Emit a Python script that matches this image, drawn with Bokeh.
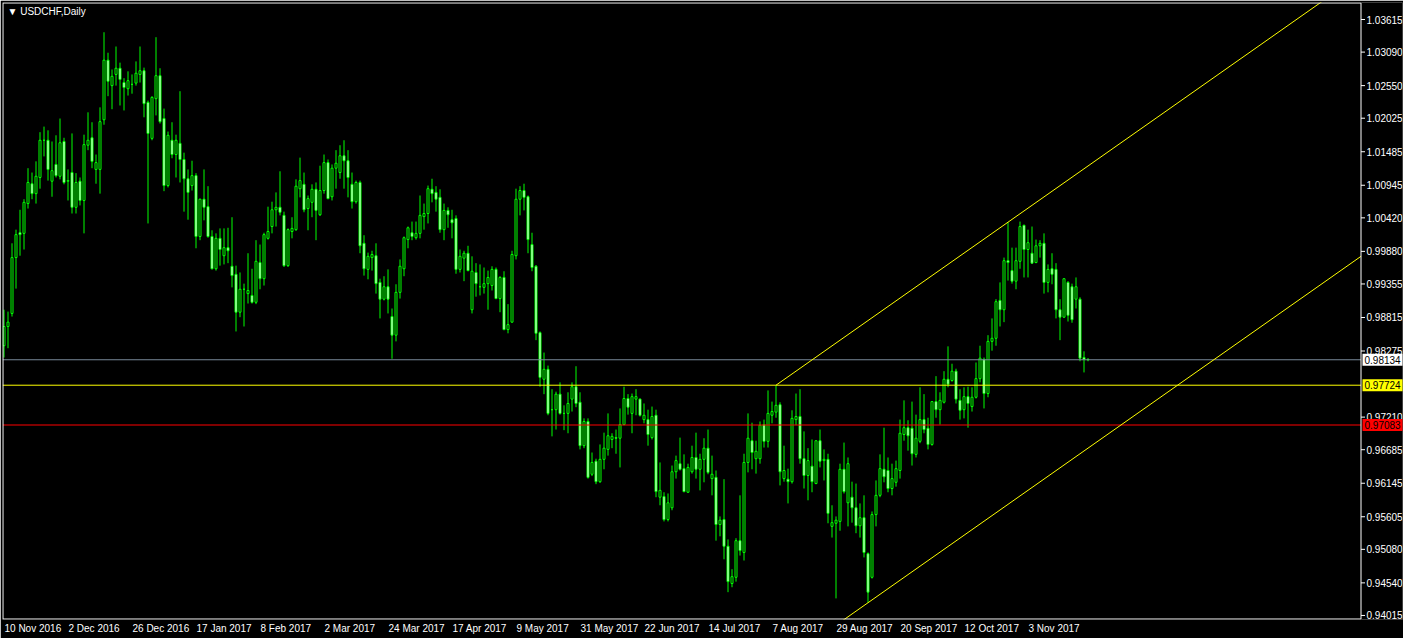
from bokeh.plotting import figure
from bokeh.models import Range1d, FixedTicker, Label, ColumnDataSource
from bokeh.core.properties import value
from bokeh.embed import file_html
from bokeh.resources import INLINE

# ---------------- data (USDCHF daily) ----------------
open_ = [
    0.9836, 0.9867, 0.9888, 0.9978, 1.0018, 1.0017, 1.0065, 1.0097, 1.0081, 1.0107,
    1.0167, 1.0167, 1.0101, 1.0128, 1.0109, 1.0165, 1.0101, 1.0115, 1.0059, 1.0101,
    1.0070, 1.0159, 1.0171, 1.0120, 1.0120, 1.0200, 1.0296, 1.0255, 1.0273, 1.0283,
    1.0260, 1.0250, 1.0257, 1.0259, 1.0273, 1.0279, 1.0228, 1.0170, 1.0234, 1.0271,
    1.0202, 1.0094, 1.0167, 1.0144, 1.0162, 1.0136, 1.0105, 1.0094, 1.0110, 1.0012,
    1.0072, 1.0060, 1.0012, 0.9960, 1.0009, 0.9981, 0.9994, 0.9964, 0.9951, 0.9890,
    0.9927, 0.9920, 0.9917, 0.9906, 0.9970, 0.9944, 1.0009, 1.0028, 1.0055, 1.0059,
    1.0046, 0.9965, 1.0020, 1.0023, 1.0089, 1.0096, 1.0057, 1.0067, 1.0088, 1.0047,
    1.0086, 1.0131, 1.0076, 1.0122, 1.0115, 1.0142, 1.0134, 1.0096, 1.0068, 1.0099,
    1.0001, 0.9959, 0.9978, 0.9981, 0.9938, 0.9911, 0.9931, 0.9883, 0.9853, 0.9922,
    0.9960, 1.0007, 1.0018, 1.0010, 1.0017, 1.0044, 1.0049, 1.0088, 1.0083, 1.0075,
    1.0023, 1.0054, 1.0039, 1.0041, 0.9959, 0.9977, 0.9985, 0.9894, 0.9954, 0.9931,
    0.9930, 0.9936, 0.9933, 0.9959, 0.9912, 0.9946, 0.9862, 0.9874, 0.9981, 1.0072,
    1.0086, 1.0076, 0.9999, 0.9964, 0.9857, 0.9782, 0.9798, 0.9733, 0.9733, 0.9758,
    0.9727, 0.9727, 0.9750, 0.9770, 0.9745, 0.9675, 0.9714, 0.9629, 0.9650, 0.9617,
    0.9653, 0.9669, 0.9685, 0.9688, 0.9687, 0.9709, 0.9751, 0.9727, 0.9750, 0.9750,
    0.9717, 0.9717, 0.9688, 0.9724, 0.9592, 0.9593, 0.9556, 0.9575, 0.9633, 0.9646,
    0.9638, 0.9600, 0.9633, 0.9656, 0.9637, 0.9653, 0.9671, 0.9622, 0.9624, 0.9548,
    0.9556, 0.9513, 0.9453, 0.9463, 0.9522, 0.9503, 0.9648, 0.9683, 0.9654, 0.9654,
    0.9709, 0.9682, 0.9724, 0.9729, 0.9741, 0.9622, 0.9621, 0.9617, 0.9717, 0.9722,
    0.9654, 0.9627, 0.9642, 0.9614, 0.9683, 0.9651, 0.9653, 0.9545, 0.9550, 0.9553,
    0.9637, 0.9583, 0.9592, 0.9575, 0.9546, 0.9559, 0.9501, 0.9463, 0.9564, 0.9595,
    0.9637, 0.9635, 0.9606, 0.9616, 0.9635, 0.9693, 0.9704, 0.9703, 0.9661, 0.9682,
    0.9717, 0.9703, 0.9677, 0.9746, 0.9733, 0.9745, 0.9782, 0.9780, 0.9795, 0.9748,
    0.9733, 0.9754, 0.9738, 0.9753, 0.9783, 0.9814, 0.9759, 0.9843, 0.9848, 0.9909,
    0.9894, 0.9973, 0.9957, 0.9940, 0.9972, 1.0030, 0.9991, 0.9985, 0.9970, 0.9997,
    1.0001, 0.9938, 0.9960, 0.9959, 0.9894, 0.9882, 0.9938, 0.9931, 0.9911, 0.9911,
    0.9817, 0.9814,
]
high = [
    0.9894, 0.9891, 1.0001, 1.0023, 1.0055, 1.0072, 1.0122, 1.0115, 1.0133, 1.0180,
    1.0189, 1.0183, 1.0165, 1.0175, 1.0202, 1.0171, 1.0120, 1.0178, 1.0114, 1.0107,
    1.0176, 1.0212, 1.0196, 1.0144, 1.0220, 1.0341, 1.0308, 1.0281, 1.0318, 1.0292,
    1.0267, 1.0278, 1.0273, 1.0294, 1.0318, 1.0284, 1.0231, 1.0238, 1.0333, 1.0283,
    1.0218, 1.0181, 1.0196, 1.0176, 1.0246, 1.0147, 1.0120, 1.0134, 1.0114, 1.0073,
    1.0120, 1.0093, 1.0022, 1.0017, 1.0025, 1.0025, 1.0026, 1.0043, 0.9965, 0.9954,
    0.9936, 0.9985, 0.9960, 1.0006, 0.9999, 1.0018, 1.0060, 1.0068, 1.0083, 1.0117,
    1.0052, 1.0025, 1.0043, 1.0104, 1.0139, 1.0115, 1.0078, 1.0096, 1.0099, 1.0126,
    1.0144, 1.0136, 1.0128, 1.0151, 1.0159, 1.0167, 1.0151, 1.0115, 1.0102, 1.0102,
    1.0014, 0.9986, 0.9989, 1.0001, 0.9944, 0.9948, 0.9959, 0.9896, 0.9935, 0.9975,
    1.0012, 1.0028, 1.0036, 1.0036, 1.0078, 1.0065, 1.0094, 1.0105, 1.0093, 1.0088,
    1.0065, 1.0059, 1.0055, 1.0046, 0.9991, 0.9989, 0.9997, 0.9980, 0.9969, 0.9967,
    0.9962, 0.9957, 0.9964, 0.9962, 0.9948, 0.9956, 0.9903, 0.9989, 1.0089, 1.0093,
    1.0097, 1.0078, 1.0018, 0.9966, 0.9859, 0.9825, 0.9804, 0.9766, 0.9762, 0.9777,
    0.9740, 0.9761, 0.9777, 0.9803, 0.9761, 0.9719, 0.9719, 0.9664, 0.9654, 0.9677,
    0.9696, 0.9727, 0.9695, 0.9701, 0.9735, 0.9770, 0.9758, 0.9759, 0.9766, 0.9751,
    0.9743, 0.9733, 0.9738, 0.9733, 0.9648, 0.9600, 0.9598, 0.9643, 0.9659, 0.9688,
    0.9661, 0.9646, 0.9675, 0.9696, 0.9662, 0.9687, 0.9701, 0.9659, 0.9635, 0.9561,
    0.9621, 0.9524, 0.9476, 0.9526, 0.9595, 0.9662, 0.9727, 0.9712, 0.9683, 0.9714,
    0.9717, 0.9764, 0.9746, 0.97724, 0.9745, 0.9675, 0.9638, 0.9732, 0.9759, 0.9766,
    0.9698, 0.9671, 0.9685, 0.9683, 0.9701, 0.9669, 0.9662, 0.9579, 0.9561, 0.9646,
    0.9680, 0.9656, 0.9617, 0.9614, 0.9582, 0.9595, 0.9503, 0.9569, 0.9619, 0.9661,
    0.9704, 0.9656, 0.9646, 0.9651, 0.9717, 0.9748, 0.9716, 0.9746, 0.9725, 0.9769,
    0.9758, 0.9720, 0.9746, 0.9787, 0.9761, 0.9795, 0.9835, 0.9807, 0.9799, 0.9766,
    0.9769, 0.9770, 0.9769, 0.9809, 0.9836, 0.9817, 0.9853, 0.9880, 0.9911, 0.9938,
    0.9978, 1.0035, 0.9994, 0.9994, 1.0036, 1.0031, 1.0023, 1.0028, 1.0007, 1.0006,
    1.0017, 0.9967, 0.9985, 0.9969, 0.9911, 0.9944, 0.9940, 0.9936, 0.9946, 0.9914,
    0.9827, 0.9816,
]
low = [
    0.9817, 0.9832, 0.9883, 0.9928, 0.9981, 0.9991, 1.0057, 1.0072, 1.0065, 1.0089,
    1.0141, 1.0102, 1.0076, 1.0107, 1.0104, 1.0096, 1.0070, 1.0049, 1.0049, 1.0062,
    1.0017, 1.0151, 1.0122, 1.0097, 1.0081, 1.0192, 1.0238, 1.0217, 1.0255, 1.0223,
    1.0215, 1.0239, 1.0242, 1.0255, 1.0260, 1.0204, 1.0033, 1.0167, 1.0207, 1.0194,
    1.0085, 1.0091, 1.0138, 1.0107, 1.0099, 1.0052, 1.0039, 1.0086, 0.9993, 1.0006,
    1.0038, 1.0010, 0.9959, 0.9957, 0.9965, 0.9967, 0.9969, 0.9930, 0.9859, 0.9882,
    0.9867, 0.9904, 0.9904, 0.9903, 0.9927, 0.9933, 1.0007, 1.0017, 1.0028, 1.0046,
    0.9963, 0.9963, 1.0009, 1.0021, 1.0075, 1.0051, 1.0022, 1.0043, 1.0006, 1.0045,
    1.0081, 1.0072, 1.0070, 1.0089, 1.0105, 1.0089, 1.0075, 1.0057, 1.0065, 0.9985,
    0.9949, 0.9943, 0.9957, 0.9920, 0.9880, 0.9909, 0.9888, 0.9815, 0.9843, 0.9912,
    0.9948, 0.9993, 1.0006, 1.0007, 1.0009, 1.0023, 1.0033, 1.0067, 1.0052, 1.0018,
    1.0006, 1.0026, 1.0009, 0.9952, 0.9954, 0.9940, 0.9956, 0.9888, 0.9915, 0.9917,
    0.9920, 0.9894, 0.9925, 0.9911, 0.9890, 0.9861, 0.9856, 0.9873, 0.9975, 1.0046,
    1.0054, 0.9985, 0.9956, 0.9845, 0.9770, 0.9758, 0.9724, 0.9690, 0.9701, 0.9725,
    0.9700, 0.9695, 0.9730, 0.9737, 0.9669, 0.9671, 0.9622, 0.9626, 0.9613, 0.9615,
    0.9637, 0.9659, 0.9671, 0.9662, 0.9640, 0.9708, 0.9725, 0.9695, 0.9724, 0.9722,
    0.9711, 0.9675, 0.9685, 0.9592, 0.9579, 0.9553, 0.9553, 0.9571, 0.9622, 0.9635,
    0.9600, 0.9599, 0.9630, 0.9622, 0.9603, 0.9616, 0.9629, 0.9595, 0.9522, 0.9529,
    0.9492, 0.9439, 0.9447, 0.9456, 0.9498, 0.9490, 0.9632, 0.9637, 0.9630, 0.9646,
    0.9672, 0.9672, 0.9711, 0.9720, 0.9611, 0.9617, 0.9582, 0.9614, 0.9708, 0.9646,
    0.9606, 0.9587, 0.9600, 0.9613, 0.9640, 0.9619, 0.9550, 0.9527, 0.9429, 0.9538,
    0.9598, 0.9545, 0.9551, 0.9534, 0.9527, 0.9495, 0.9422, 0.9461, 0.9545, 0.9592,
    0.9616, 0.9600, 0.9595, 0.9609, 0.9622, 0.9683, 0.9667, 0.9643, 0.9656, 0.9679,
    0.9695, 0.9669, 0.9675, 0.9720, 0.9709, 0.9743, 0.9769, 0.9778, 0.9743, 0.9717,
    0.9719, 0.9704, 0.9730, 0.9751, 0.9777, 0.9735, 0.9753, 0.9828, 0.9836, 0.9867,
    0.9874, 0.9941, 0.9936, 0.9927, 0.9960, 0.9946, 0.9946, 0.9968, 0.9969, 0.9978,
    0.9920, 0.9922, 0.9935, 0.9880, 0.9845, 0.9881, 0.9875, 0.9873, 0.9896, 0.9811,
    0.9793, 0.9811,
]
close = [
    0.9867, 0.9874, 0.9978, 1.0015, 1.0015, 1.0067, 1.0099, 1.0081, 1.0109, 1.0167,
    1.0167, 1.0120, 1.0118, 1.0110, 1.0163, 1.0099, 1.0102, 1.0059, 1.0099, 1.0070,
    1.0160, 1.0167, 1.0133, 1.0131, 1.0197, 1.0296, 1.0262, 1.0270, 1.0283, 1.0265,
    1.0252, 1.0263, 1.0257, 1.0275, 1.0279, 1.0226, 1.0178, 1.0236, 1.0271, 1.0197,
    1.0094, 1.0175, 1.0144, 1.0167, 1.0136, 1.0105, 1.0083, 1.0110, 1.0012, 1.0072,
    1.0059, 1.0012, 0.9960, 1.0009, 0.9991, 0.9994, 0.9989, 0.9949, 0.9890, 0.9927,
    0.9927, 0.9925, 0.9906, 0.9972, 0.9944, 1.0015, 1.0020, 1.0055, 1.0059, 1.0051,
    0.9965, 1.0023, 1.0025, 1.0093, 1.0102, 1.0055, 1.0073, 1.0088, 1.0054, 1.0086,
    1.0131, 1.0073, 1.0122, 1.0130, 1.0142, 1.0134, 1.0107, 1.0068, 1.0099, 0.9997,
    0.9960, 0.9980, 0.9983, 0.9936, 0.9911, 0.9931, 0.9911, 0.9853, 0.9922, 0.9964,
    1.0010, 1.0026, 1.0012, 1.0017, 1.0046, 1.0049, 1.0089, 1.0081, 1.0072, 1.0023,
    1.0054, 1.0047, 1.0034, 0.9959, 0.9980, 0.9985, 0.9957, 0.9956, 0.9936, 0.9931,
    0.9936, 0.9946, 0.9959, 0.9912, 0.9946, 0.9862, 0.9870, 0.9983, 1.0072, 1.0086,
    1.0075, 1.0007, 0.9962, 0.9856, 0.9785, 0.9798, 0.9727, 0.9733, 0.9758, 0.9727,
    0.9727, 0.9743, 0.9770, 0.9743, 0.9675, 0.9714, 0.9624, 0.9648, 0.9617, 0.9653,
    0.9671, 0.9691, 0.9690, 0.9687, 0.9709, 0.9751, 0.9737, 0.9754, 0.9754, 0.9724,
    0.9724, 0.9693, 0.9722, 0.9601, 0.9603, 0.9556, 0.9583, 0.9633, 0.9651, 0.9637,
    0.9601, 0.9640, 0.9656, 0.9637, 0.9653, 0.9671, 0.9632, 0.9629, 0.9548, 0.9555,
    0.9513, 0.9456, 0.9464, 0.9522, 0.9506, 0.9648, 0.9687, 0.9664, 0.9666, 0.9708,
    0.9682, 0.9727, 0.9730, 0.9740, 0.9633, 0.9635, 0.9617, 0.9719, 0.9722, 0.9654,
    0.9627, 0.9651, 0.9617, 0.9683, 0.9650, 0.9653, 0.9566, 0.9551, 0.9555, 0.9637,
    0.9601, 0.9646, 0.9575, 0.9546, 0.9559, 0.9503, 0.9439, 0.9564, 0.9595, 0.9638,
    0.9625, 0.9606, 0.9622, 0.9638, 0.9695, 0.9704, 0.9691, 0.9662, 0.9687, 0.9717,
    0.9701, 0.9677, 0.9746, 0.9733, 0.9748, 0.9782, 0.9774, 0.9795, 0.9750, 0.9732,
    0.9754, 0.9743, 0.9753, 0.9783, 0.9816, 0.9759, 0.9843, 0.9848, 0.9907, 0.9894,
    0.9973, 0.9970, 0.9940, 0.9973, 1.0028, 0.9991, 1.0002, 0.9969, 0.9997, 1.0001,
    0.9938, 0.9959, 0.9951, 0.9894, 0.9882, 0.9944, 0.9885, 0.9878, 0.9931, 0.9816,
    0.9814, 0.98134,
]

date_tick_bars = [0, 16, 32, 48, 64, 80, 96, 112, 128, 144, 160, 176, 192, 208, 224, 240, 256]
date_tick_labels = ["10 Nov 2016", "2 Dec 2016", "26 Dec 2016", "17 Jan 2017", "8 Feb 2017",
                    "2 Mar 2017", "24 Mar 2017", "17 Apr 2017", "9 May 2017", "31 May 2017",
                    "22 Jun 2017", "14 Jul 2017", "7 Aug 2017", "29 Aug 2017", "20 Sep 2017",
                    "12 Oct 2017", "3 Nov 2017"]
price_ticks = [1.03615, 1.03090, 1.02550, 1.02025, 1.01485, 1.00945, 1.00420, 0.99880, 0.99355,
               0.98815, 0.98275, 0.97210, 0.96685, 0.96145, 0.95605, 0.95080, 0.94540, 0.94015]
bid_price = 0.98134
level_prices = [0.97724, 0.97083]
channel_bars = [193, 251, 216]          # upper anchor 1, upper anchor 2, lower anchor
channel_prices = [0.97724, 1.0035, 0.9422]
symbol_title = "\u25BC USDCHF,Daily"

# ---------------- layout ----------------
FONT = "Liberation Sans"
FS = 10
W, H = 1403, 638
BL, BT, BR, BB = 2, 2, 1, 19
FW, FH = W - BL - BR, H - BT - BB           # frame incl. the price-scale strip
CHART_W = 1358                              # chart area width in px (border at px 1360)
BAR_PX = 4
Y0, Y1 = 0.93950, 1.03889
x_start = -0.375
x_end = x_start + FW / BAR_PX
XPP = 1.0 / BAR_PX
YPP = (Y1 - Y0) / FH


def xd(px):      # px from frame left -> data x
    return x_start + px * XPP


def yd(py):      # px from frame top -> data y
    return Y1 - py * YPP


x_border = xd(CHART_W + 0.5)

p = figure(width=W, height=H, output_backend="svg", toolbar_location=None,
           x_range=Range1d(x_start, x_end), y_range=Range1d(Y0, Y1),
           y_axis_location=None,
           min_border_left=BL, min_border_top=BT, min_border_right=BR, min_border_bottom=BB,
           background_fill_color="black", border_fill_color="black",
           outline_line_color=None)
p.grid.visible = False

# bottom date axis, labels starting at their bar
CW = {" ": .278, ",": .278, ".": .278, "N": .722, "D": .722, "J": .5, "F": .611, "M": .833,
      "A": .667, "S": .667, "O": .778, "o": .556, "v": .5, "e": .556, "c": .5, "a": .556,
      "n": .556, "r": .333, "p": .556, "u": .556, "l": .222, "g": .556, "t": .278, "y": .5,
      "b": .556}


def text_w(s):
    return sum(CW.get(ch, .556) for ch in s) * FS


tick_pos = [b + (text_w(s) / 2 + 0.5) * XPP for b, s in zip(date_tick_bars, date_tick_labels)]
xa = p.xaxis[0]
xa.ticker = FixedTicker(ticks=tick_pos)
xa.major_label_overrides = {t: s for t, s in zip(tick_pos, date_tick_labels)}
xa.axis_line_color = None
xa.major_tick_line_color = None
xa.minor_tick_line_color = None
xa.major_tick_out = 0
xa.major_tick_in = 0
xa.major_label_standoff = 3
xa.major_label_text_color = "white"
xa.major_label_text_font = FONT
xa.major_label_text_font_size = f"{FS}px"

# ---------------- candles ----------------
xs = list(range(len(open_)))
src = ColumnDataSource(dict(
    x=xs, high=high, low=low,
    top=[max(o, c) for o, c in zip(open_, close)],
    bottom=[min(o, c) for o, c in zip(open_, close)],
    fill=["black" if c >= o else "white" for o, c in zip(open_, close)],
))
p.segment(x0="x", y0="low", x1="x", y1="high", source=src, line_color="#00ff00", line_width=1)
p.vbar(x="x", width=0.5, top="top", bottom="bottom", source=src,
       fill_color="fill", line_color="#00ff00", line_width=1)

# ---------------- horizontal levels ----------------
p.segment(x0=[x_start] * 3, x1=[x_border] * 3,
          y0=[bid_price] + level_prices, y1=[bid_price] + level_prices,
          line_color=["#778899", "yellow", "red"], line_width=1)

# ---------------- channel ----------------
slope = (channel_prices[1] - channel_prices[0]) / (channel_bars[1] - channel_bars[0])
b0 = channel_bars[0]
p.segment(x0=[b0, b0],
          y0=[channel_prices[0], channel_prices[2] + slope * (b0 - channel_bars[2])],
          x1=[x_border, x_border],
          y1=[channel_prices[0] + slope * (x_border - b0),
              channel_prices[2] + slope * (x_border - channel_bars[2])],
          line_color="yellow", line_width=1)

# ---------------- chart frame ----------------
p.segment(x0=[xd(0.5), xd(0.5), x_border, xd(0.5)],
          y0=[yd(0.5), yd(0.5), yd(0.5), yd(FH - 0.5)],
          x1=[xd(0.5), x_border, x_border, x_border],
          y1=[yd(FH - 0.5), yd(0.5), yd(FH - 0.5), yd(FH - 0.5)],
          line_color="white", line_width=1)

# ---------------- price scale ----------------
p.segment(x0=[x_border] * len(price_ticks), x1=[xd(CHART_W + 4.5)] * len(price_ticks),
          y0=price_ticks, y1=price_ticks, line_color="white", line_width=1)
p.text(x=[xd(CHART_W + 6)] * len(price_ticks), y=price_ticks,
       text=[f"{v:.5f}" for v in price_ticks],
       text_color="white", text_font=value(FONT), text_font_size=f"{FS}px",
       text_align="left", text_baseline="middle")

lvl_prices = [bid_price] + level_prices
p.rect(x=[xd(CHART_W + 2 + 20.5)] * 3, y=lvl_prices, width=41, height=12,
       width_units="screen", height_units="screen",
       fill_color=["white", "yellow", "red"], line_color=None)
p.text(x=[xd(CHART_W + 4)] * 3, y=lvl_prices, text=[f"{v:.5f}" for v in lvl_prices],
       text_color="black", text_font=value(FONT), text_font_size=f"{FS}px",
       text_align="left", text_baseline="middle")

p.add_layout(Label(x=5, y=FH - 3, x_units="screen", y_units="screen", text=symbol_title,
                   text_font=FONT, text_font_size=f"{FS}px", text_color="white",
                   text_align="left", text_baseline="top"))

open("out.html", "w").write(file_html(p, INLINE))
